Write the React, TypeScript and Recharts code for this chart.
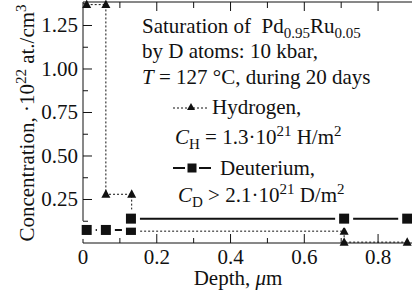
import React from 'react';
import { LineChart, Line, XAxis, YAxis, Legend } from 'recharts';

// depth in µm, concentration in 10^22 at./cm^3
const hydrogenDepth = [0.01, 0.062, 0.062, 0.132, 0.132, 0.708, 0.708, 0.879];
const hydrogenConc = [1.37, 1.37, 0.28, 0.28, 0.068, 0.068, 0.005, 0.005];
const deuteriumDepth = [0.01, 0.062, 0.13, 0.13, 0.708, 0.879];
const deuteriumConc = [0.075, 0.075, 0.075, 0.14, 0.14, 0.14];

const depthTicks = [0, 0.1, 0.2, 0.3, 0.4, 0.5, 0.6, 0.7, 0.8];
const depthLabels = [0, 0.2, 0.4, 0.6, 0.8];
const concTicks = [0.125, 0.25, 0.375, 0.5, 0.625, 0.75, 0.875, 1, 1.125, 1.25, 1.375];
const concLabels = [0.25, 0.5, 0.75, 1, 1.25];

const hydrogenData = hydrogenDepth.map((d, i) => ({ depth: d, conc: hydrogenConc[i] }));
const deuteriumData = deuteriumDepth.map((d, i) => ({ depth: d, conc: deuteriumConc[i] }));

const FONT = '"Liberation Serif", "Times New Roman", serif';
const INK = '#111';
const txt: React.CSSProperties = { fontFamily: FONT, fontSize: 21 };

const BottomTick = ({ x, y, payload }: any) => {
  const v = payload.value;
  const major = depthLabels.includes(v);
  return (
    <g>
      {v > 0 && <line x1={x} x2={x} y1={y} y2={y - (major ? 9 : 5)} stroke={INK} />}
      {major && (
        <text x={x} y={y + 21} textAnchor="middle" style={txt} fill={INK}>
          {v === 0 ? '0' : v.toFixed(1)}
        </text>
      )}
    </g>
  );
};

const TopTick = ({ x, y, payload }: any) => {
  const v = payload.value;
  if (v === 0) return <g />;
  const major = depthLabels.includes(v);
  return <line x1={x} x2={x} y1={y} y2={y + (major ? 9 : 6)} stroke={INK} />;
};

const LeftTick = ({ x, y, payload }: any) => {
  const v = payload.value;
  const major = concLabels.includes(v);
  return (
    <g>
      <line x1={x} x2={x + (major ? 9 : 5)} y1={y} y2={y} stroke={INK} />
      {major && (
        <text x={x - 5} y={y + 7} textAnchor="end" style={txt} fill={INK}>
          {v.toFixed(2)}
        </text>
      )}
    </g>
  );
};

const RightTick = ({ x, y, payload }: any) => {
  const major = concLabels.includes(payload.value);
  return <line x1={x} x2={x - (major ? 7 : 4)} y1={y} y2={y} stroke={INK} />;
};

const Triangle = ({ cx, cy }: any) => (
  <polygon
    points={`${cx},${cy - 5} ${cx - 4.5},${cy + 3.5} ${cx + 4.5},${cy + 3.5}`}
    fill={INK}
  />
);

const Square = ({ cx, cy }: any) => (
  <rect x={cx - 7} y={cy - 7} width={14} height={14} fill={INK} stroke="#fff" strokeWidth={4} />
);

const sub = { fontSize: 15, position: 'relative' as const, top: 5 };
const sup = { fontSize: 15, position: 'relative' as const, top: -8 };

const line = (left: number, center: number): React.CSSProperties => ({
  position: 'absolute',
  left,
  top: center - 12,
  whiteSpace: 'nowrap',
  fontFamily: FONT,
  fontSize: 21,
  lineHeight: '24px',
  color: INK,
});

const Glyph = ({ kind }: { kind: string }) =>
  kind === 'Hydrogen' ? (
    <svg width={36} height={12} style={{ position: 'absolute', left: 0, top: 6 }}>
      <line x1={0} x2={36} y1={7} y2={7} stroke={INK} strokeDasharray="2 2" />
      <polygon points="18,2 14,9 22,9" fill={INK} />
    </svg>
  ) : (
    <svg width={38} height={12} style={{ position: 'absolute', left: 0, top: 6 }}>
      <line x1={0} x2={12} y1={6} y2={6} stroke={INK} strokeWidth={2} />
      <line x1={26} x2={38} y1={6} y2={6} stroke={INK} strokeWidth={2} />
      <rect x={14.5} y={1.5} width={9} height={9} fill={INK} />
    </svg>
  );

const renderNote = ({ payload }: any) => {
  const names = (payload || []).map((p: any) => p.value);
  const h = names.find((n: string) => n === 'Hydrogen') || 'Hydrogen';
  const d = names.find((n: string) => n === 'Deuterium') || 'Deuterium';
  return (
    <div style={{ position: 'relative', width: 412, height: 294 }}>
      <div style={line(142, 26)}>
        Saturation of{'\u00a0'} Pd<span style={sub}>0.95</span>Ru<span style={sub}>0.05</span>
      </div>
      <div style={line(142, 51)}>by D atoms: 10 kbar,</div>
      <div style={line(142, 77)}>
        <i>T</i> = 127 °C, during 20 days
      </div>
      <div style={line(173, 107)}>
        <Glyph kind={h} />
        <span style={{ marginLeft: 39 }}>{h},</span>
      </div>
      <div style={line(175, 137)}>
        <i>C</i>
        <span style={sub}>H</span> = 1.3·10<span style={sup}>21</span> H/m<span style={sup}>2</span>
      </div>
      <div style={line(173, 168)}>
        <Glyph kind={d} />
        <span style={{ marginLeft: 47 }}>{d},</span>
      </div>
      <div style={line(178, 195)}>
        <i>C</i>
        <span style={sub}>D</span> &gt; 2.1·10<span style={sup}>21</span> D/m<span style={sup}>2</span>
      </div>
    </div>
  );
};

const YLabel = () => (
  <text transform="translate(34,123) rotate(-90)" textAnchor="middle" style={txt} fill={INK}>
    Concentration, ·10
    <tspan dy={-8} style={{ fontSize: 15 }}>22</tspan>
    <tspan dy={8}> at./cm</tspan>
    <tspan dy={-8} style={{ fontSize: 15 }}>3</tspan>
  </text>
);

const XLabel = () => (
  <text x={238} y={285} textAnchor="middle" style={txt} fill={INK}>
    Depth, <tspan fontStyle="italic">μ</tspan>m
  </text>
);

export default function App() {
  return (
    <div style={{ position: 'absolute', left: 0, top: 0, width: 412, height: 294, background: '#fff' }}>
      <LineChart width={412} height={294} margin={{ top: 1, right: 0, bottom: 0, left: 0 }}>
        <XAxis
          xAxisId="b"
          dataKey="depth"
          type="number"
          domain={[0, 0.892]}
          ticks={depthTicks}
          interval={0}
          tick={<BottomTick />}
          tickLine={false}
          tickSize={0}
          tickMargin={0}
          height={51}
          axisLine={{ stroke: INK }}
          label={() => <XLabel />}
        />
        <XAxis
          xAxisId="t"
          dataKey="depth"
          orientation="top"
          type="number"
          domain={[0, 0.892]}
          ticks={depthTicks}
          interval={0}
          tick={<TopTick />}
          tickLine={false}
          tickSize={0}
          tickMargin={0}
          height={1}
          axisLine={{ stroke: INK }}
        />
        <YAxis
          yAxisId="l"
          type="number"
          domain={[0, 1.385]}
          ticks={concTicks}
          interval={0}
          tick={<LeftTick />}
          tickLine={false}
          tickSize={0}
          tickMargin={0}
          width={83}
          axisLine={{ stroke: INK }}
          label={() => <YLabel />}
        />
        <YAxis
          yAxisId="r"
          orientation="right"
          type="number"
          domain={[0, 1.385]}
          ticks={concTicks}
          interval={0}
          tick={<RightTick />}
          tickLine={false}
          tickSize={0}
          tickMargin={0}
          width={0}
          axisLine={{ stroke: INK }}
        />
        {/* invisible twin so the top / right frame axes get scales */}
        <Line
          data={deuteriumData}
          xAxisId="t"
          yAxisId="r"
          dataKey="conc"
          stroke="none"
          dot={false}
          activeDot={false}
          legendType="none"
          isAnimationActive={false}
        />
        <Line
          name="Hydrogen"
          data={hydrogenData}
          xAxisId="b"
          yAxisId="l"
          dataKey="conc"
          type="linear"
          stroke={INK}
          strokeWidth={1}
          strokeDasharray="2 2"
          dot={(p: any) => <Triangle key={`h-${p.index}`} cx={p.cx} cy={p.cy} />}
          isAnimationActive={false}
        />
        <Line
          name="Deuterium"
          data={deuteriumData}
          xAxisId="b"
          yAxisId="l"
          dataKey="conc"
          type="linear"
          stroke={INK}
          strokeWidth={2}
          dot={(p: any) => <Square key={`d-${p.index}`} cx={p.cx} cy={p.cy} />}
          isAnimationActive={false}
        />
        <Legend
          layout="vertical"
          align="center"
          verticalAlign="middle"
          content={renderNote}
          wrapperStyle={{ position: 'absolute', left: 0, top: 0, width: 412, height: 294, pointerEvents: 'none' }}
        />
      </LineChart>
    </div>
  );
}
